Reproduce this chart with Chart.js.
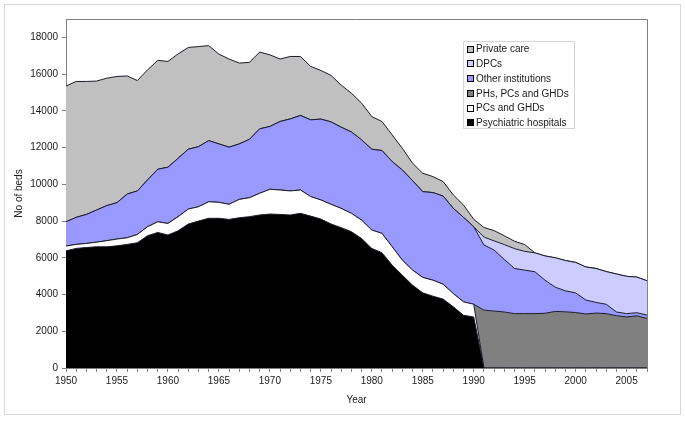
<!DOCTYPE html>
<html>
<head>
<meta charset="utf-8">
<script src="https://cdn.jsdelivr.net/npm/chart.js@4.4.0/dist/chart.umd.min.js"></script>
<style>
  html, body { margin: 0; padding: 0; background: #fff; }
  canvas { display: block; }
</style>
</head>
<body>
<canvas id="bedsChart" width="685" height="422"></canvas>
<script>
const years = [1950, 1951, 1952, 1953, 1954, 1955, 1956, 1957, 1958, 1959,
    1960, 1961, 1962, 1963, 1964, 1965, 1966, 1967, 1968, 1969,
    1970, 1971, 1972, 1973, 1974, 1975, 1976, 1977, 1978, 1979,
    1980, 1981, 1982, 1983, 1984, 1985, 1986, 1987, 1988, 1989,
    1990, 1991, 1992, 1993, 1994, 1995, 1996, 1997, 1998, 1999,
    2000, 2001, 2002, 2003, 2004, 2005, 2006, 2007];

const psychiatricHospitals = [6380, 6510, 6560, 6600, 6600, 6650, 6730, 6820, 7200, 7380,
    7240, 7470, 7840, 8000, 8150, 8150, 8090, 8180, 8240, 8330,
    8380, 8360, 8330, 8420, 8270, 8110, 7840, 7640, 7420, 7050,
    6510, 6270, 5600, 5050, 4510, 4090, 3910, 3750, 3330, 2870,
    2780, 0, 0, 0, 0, 0, 0, 0, 0, 0,
    0, 0, 0, 0, 0, 0, 0, 0];

const pcsAndGhds = [260, 220, 220, 250, 330, 370, 360, 450, 490, 580,
    630, 770, 810, 780, 900, 870, 820, 1000, 1030, 1180,
    1350, 1330, 1310, 1270, 1060, 1040, 1070, 1050, 1000, 1000,
    1000, 1060, 1000, 820, 820, 840, 870, 810, 720, 730,
    690, 0, 0, 0, 0, 0, 0, 0, 0, 0,
    0, 0, 0, 0, 0, 0, 0, 0];

const phsPcsAndGhds = [0, 0, 0, 0, 0, 0, 0, 0, 0, 0,
    0, 0, 0, 0, 0, 0, 0, 0, 0, 0,
    0, 0, 0, 0, 0, 0, 0, 0, 0, 0,
    0, 0, 0, 0, 0, 0, 0, 0, 0, 0,
    0, 3150, 3100, 3050, 2960, 2960, 2960, 2980, 3080, 3060,
    3020, 2940, 2990, 2960, 2850, 2780, 2840, 2700];

const otherInstitutions = [1320, 1470, 1580, 1750, 1910, 1980, 2380, 2370, 2550, 2860,
    3060, 3180, 3260, 3270, 3330, 3180, 3110, 3020, 3180, 3510,
    3420, 3730, 3920, 4060, 4180, 4400, 4490, 4420, 4430, 4370,
    4400, 4510, 4640, 4910, 4870, 4670, 4770, 4800, 4640, 4600,
    4220, 3550, 3320, 2860, 2460, 2370, 2280, 1800, 1320, 1140,
    1070, 760, 580, 510, 200, 180, 170, 180];

const dpcs = [0, 0, 0, 0, 0, 0, 0, 0, 0, 0,
    0, 0, 0, 0, 0, 0, 0, 0, 0, 0,
    0, 0, 0, 0, 0, 0, 0, 0, 0, 0,
    0, 0, 0, 0, 0, 0, 0, 0, 0, 0,
    0, 430, 500, 810, 1080, 1020, 1030, 1320, 1600, 1650,
    1660, 1800, 1850, 1780, 2070, 2030, 1940, 1870];

const privateCare = [7390, 7400, 7240, 7020, 6940, 6870, 6430, 6010, 5990, 5930,
    5760, 5680, 5540, 5450, 5170, 4890, 4800, 4400, 4190, 4180,
    3900, 3400, 3400, 3210, 2910, 2650, 2530, 2290, 2110, 2000,
    1780, 1580, 1450, 1180, 950, 1000, 870, 790, 730, 670,
    410, 520, 560, 480, 400, 370, 0, 0, 0, 0,
    0, 0, 0, 0, 0, 0, 0, 0];

const yTicks = [0, 2000, 4000, 6000, 8000, 10000, 12000, 14000, 16000, 18000];

const lineColor = '#1c1c28';
const textColor = '#1a1a1a';
const fontFamily = '"Liberation Sans", Arial, sans-serif';

function areaSet(label, data, color, fill) {
    return {
        label: label,
        data: data,
        backgroundColor: color,
        borderColor: lineColor,
        borderWidth: 1,
        pointRadius: 0,
        tension: 0,
        fill: fill
    };
}

// frame around the whole picture and around the plot
const framePlugin = {
    id: 'frames',
    beforeDraw(chart) {
        const ctx = chart.ctx;
        ctx.save();
        ctx.fillStyle = '#fff';
        ctx.fillRect(0, 0, chart.width, chart.height);
        ctx.strokeStyle = '#d9d9d9';
        ctx.lineWidth = 1;
        ctx.strokeRect(4.5, 4.5, 676, 410);
        ctx.restore();
    },
    afterDatasetsDraw(chart) {
        const a = chart.chartArea;
        const ctx = chart.ctx;
        ctx.save();
        ctx.strokeStyle = '#808080';
        ctx.lineWidth = 1;
        ctx.beginPath();
        ctx.moveTo(Math.round(a.left), Math.round(a.top) + 0.5);
        ctx.lineTo(Math.round(a.right) + 0.5, Math.round(a.top) + 0.5);
        ctx.lineTo(Math.round(a.right) + 0.5, Math.round(a.bottom));
        ctx.stroke();
        ctx.restore();
    }
};

// legend box inside the plot, in Excel order (top series first)
const boxLegend = {
    id: 'boxLegend',
    afterDraw(chart) {
        const ctx = chart.ctx;
        const sets = chart.data.datasets.slice().reverse();
        ctx.save();
        ctx.fillStyle = '#fff';
        ctx.fillRect(463.5, 41.5, 111, 87);
        ctx.strokeStyle = '#d4d4d4';
        ctx.strokeRect(463.5, 41.5, 111, 87);
        ctx.font = '10px ' + fontFamily;
        ctx.textBaseline = 'middle';
        sets.forEach((ds, i) => {
            const y = 49 + i * 14.75;
            ctx.fillStyle = ds.backgroundColor;
            ctx.fillRect(467, Math.round(y - 3.5), 7, 7);
            ctx.strokeStyle = '#000';
            ctx.strokeRect(467.5, Math.round(y - 3.5) + 0.5, 6, 6);
            ctx.fillStyle = textColor;
            ctx.fillText(ds.label, 476, y + 0.5);
        });
        ctx.restore();
    }
};

const config = {
    type: 'line',
    data: {
        labels: years,
        datasets: [
            areaSet('Psychiatric hospitals', psychiatricHospitals, '#000000', 'origin'),
            areaSet('PCs and GHDs', pcsAndGhds, '#ffffff', '-1'),
            areaSet('PHs, PCs and GHDs', phsPcsAndGhds, '#808080', '-1'),
            areaSet('Other institutions', otherInstitutions, '#9999ff', '-1'),
            areaSet('DPCs', dpcs, '#ccccff', '-1'),
            areaSet('Private care', privateCare, '#c0c0c0', '-1')
        ]
    },
    options: {
        responsive: false,
        animation: false,
        devicePixelRatio: 1,
        layout: {
            padding: { left: 0, right: 38, top: 19, bottom: 0 }
        },
        plugins: {
            legend: { display: false },
            tooltip: { enabled: false }
        },
        scales: {
            x: {
                type: 'category',
                offset: false,
                grid: {
                    display: true,
                    drawOnChartArea: false,
                    drawTicks: true,
                    tickLength: 4,
                    color: '#808080'
                },
                border: { display: true, color: '#808080' },
                ticks: {
                    autoSkip: false,
                    maxRotation: 0,
                    padding: 3,
                    color: textColor,
                    font: { family: fontFamily, size: 10 },
                    callback: function(value, index) {
                        const y = years[index];
                        return y % 5 === 0 ? String(y) : '';
                    }
                },
                title: {
                    display: true,
                    text: 'Year',
                    color: textColor,
                    font: { family: fontFamily, size: 10 },
                    padding: { top: 0, bottom: 16 }
                },
                afterFit: function(scale) { scale.height = 54; }
            },
            y: {
                stacked: true,
                min: 0,
                max: 19000,
                grid: {
                    display: true,
                    drawOnChartArea: false,
                    drawTicks: true,
                    tickLength: 4,
                    color: '#808080'
                },
                border: { display: true, color: '#808080' },
                ticks: {
                    padding: 4,
                    color: textColor,
                    font: { family: fontFamily, size: 10 },
                    callback: function(value) { return String(value); }
                },
                afterBuildTicks: function(scale) {
                    scale.ticks = yTicks.map(v => ({ value: v }));
                },
                title: {
                    display: true,
                    text: 'No of beds',
                    color: textColor,
                    font: { family: fontFamily, size: 10 },
                    padding: { top: 13, bottom: 0 }
                },
                afterFit: function(scale) { scale.width = 66; }
            }
        }
    },
    plugins: [framePlugin, boxLegend]
};

window.onload = function() {
    const ctx = document.getElementById('bedsChart').getContext('2d');
    window.bedsChart = new Chart(ctx, config);
};
</script>
</body>
</html>
